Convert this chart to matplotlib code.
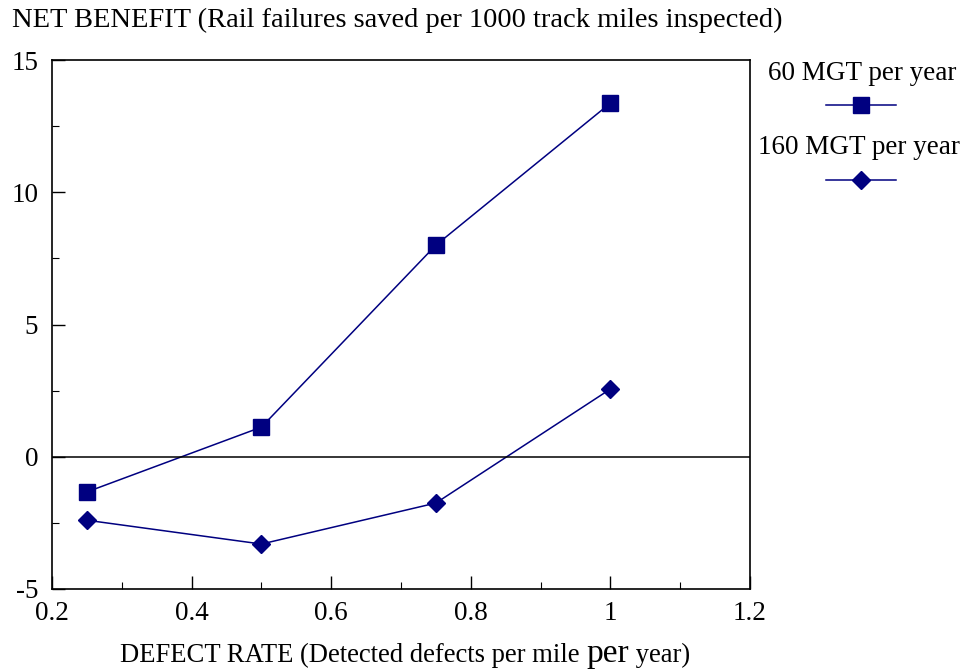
import matplotlib
matplotlib.use("Agg")
import matplotlib.pyplot as plt
from matplotlib.ticker import MultipleLocator
from matplotlib.lines import Line2D

plt.rcParams['font.family'] = ['Liberation Serif', 'DejaVu Serif']
plt.rcParams['axes.unicode_minus'] = False

defect_rate = [0.25, 0.5, 0.75, 1.0]
mgt60 = [-1.33, 1.12, 8.0, 13.37]
mgt160 = [-2.4, -3.3, -1.75, 2.56]
series_names = ["60 MGT per year", "160 MGT per year"]
x_ticks = [0.2, 0.4, 0.6, 0.8, 1.0, 1.2]
x_ticklabels = ["0.2", "0.4", "0.6", "0.8", "1", "1.2"]

navy = "#000080"
W, H = 966, 671

fig = plt.figure(figsize=(9.66, 6.71), dpi=100)
ax = fig.add_axes([52/W, 1-589/H, (750-52)/W, (589-60)/H])

ax.plot(defect_rate, mgt60, color=navy, lw=1.1, marker='s', ms=11.5, mfc=navy, mec=navy, clip_on=False)
ax.plot(defect_rate, mgt160, color=navy, lw=1.1, marker='D', ms=9.5, mfc=navy, mec=navy, clip_on=False)
ax.axhline(0, color='black', lw=1.1)

ax.set_xlim(0.2, 1.2)
ax.set_ylim(-5, 15)
ax.xaxis.set_minor_locator(MultipleLocator(0.1))
ax.yaxis.set_major_locator(MultipleLocator(5))
ax.yaxis.set_minor_locator(MultipleLocator(2.5))
ax.set_xticks(x_ticks)
ax.set_xticklabels(x_ticklabels)
ax.tick_params(which='major', direction='in', length=9.5, width=1, labelsize=19.5)
ax.tick_params(which='minor', direction='in', length=5, width=0.8)
ax.tick_params(axis='x', pad=9)
ax.tick_params(axis='y', pad=10)
for s in ax.spines.values():
    s.set_linewidth(1.2)

fig.text(12/W, 1-20/H, "NET BENEFIT (Rail failures saved per 1000 track miles inspected)",
         fontsize=20.5, ha='left', va='center')

# x label with enlarged "per"
fig.canvas.draw()
r = fig.canvas.get_renderer()
parts = [("DEFECT RATE (Detected defects per mile ", 19.2), ("per", 24), (" year)", 19.2)]
x0 = 120
base = 1 - 662/H
for txt, fs in parts:
    t = fig.text(x0/W, base, txt, fontsize=fs, ha='left', va='baseline')
    bb = t.get_window_extent(renderer=r)
    x0 += bb.width

# legend outside on the right
fig.text(862/W, 1-73/H, series_names[0], fontsize=19.5, ha='center', va='center')
fig.text(859/W, 1-147/H, series_names[1], fontsize=19.5, ha='center', va='center')
for yy, mk, ms in [(105, 's', 11.5), (180, 'D', 9.5)]:
    fig.add_artist(Line2D([826/W, 896/W], [1-yy/H]*2, color=navy, lw=1.1,
                          transform=fig.transFigure))
    fig.add_artist(Line2D([861/W], [1-yy/H], color=navy, marker=mk, ms=ms, mfc=navy, mec=navy,
                          ls='none', transform=fig.transFigure))

fig.savefig("out.png", dpi=100)
